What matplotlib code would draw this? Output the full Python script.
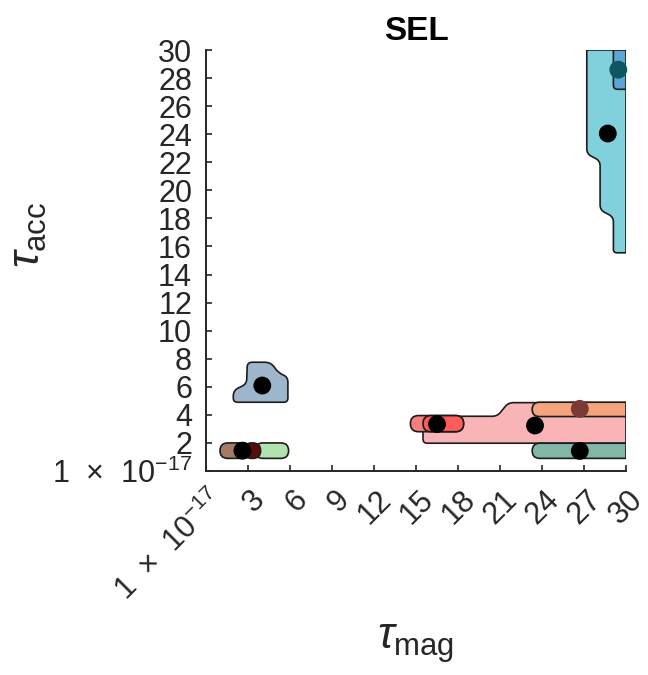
import numpy as np
import matplotlib
matplotlib.use("Agg")
import matplotlib.pyplot as plt
import matplotlib.transforms as mtransforms
from matplotlib.path import Path
from matplotlib.patches import PathPatch

plt.rcParams["font.family"] = ["Liberation Sans", "DejaVu Sans"]
plt.rcParams["mathtext.fontset"] = "custom"
plt.rcParams["mathtext.rm"] = "Liberation Sans"
plt.rcParams["mathtext.it"] = "Liberation Sans:italic"
plt.rcParams["mathtext.bf"] = "Liberation Sans:bold"

# ---- region outlines (corner points, data units) ----
blob_x = [2.95, 4.65, 5.15, 5.85, 5.85, 1.95, 1.95, 2.9]
blob_y = [7.75, 7.75, 7.0, 6.7, 4.9, 4.9, 5.75, 6.2]
blob_r = [0.35, 0.5, 0.4, 0.35, 0.3, 0.3, 0.4, 0.35]

pink_x = [15.5, 20.8, 21.6, 30.0, 30.0, 15.5]
pink_y = [3.9, 3.9, 4.87, 4.87, 1.98, 1.98]
pink_r = [0.3, 0.35, 0.35, 0.0, 0.0, 0.3]

cyan_x = [27.2, 30.0, 30.0, 29.1, 29.1, 28.15, 28.15, 27.2]
cyan_y = [30.0, 30.0, 15.55, 15.55, 18.1, 18.6, 22.1, 22.6]
cyan_r = [0.0, 0.0, 0.0, 0.25, 0.35, 0.35, 0.35, 0.35]

steel_x = [29.1, 30.0, 30.0, 29.1]
steel_y = [30.0, 30.0, 27.2, 27.2]
steel_r = [0.0, 0.0, 0.0, 0.3]

# capsules: x start, x end, y low, y high, rounded right end
cap_x0 = [3.5, 1.0, 2.7, 14.6, 15.5, 23.3, 23.3]
cap_x1 = [5.9, 3.2, 3.9, 18.4, 18.4, 30.0, 30.0]
cap_y0 = [0.9, 0.9, 0.9, 2.8, 2.8, 3.88, 0.9]
cap_y1 = [2.0, 2.0, 2.0, 3.95, 3.95, 4.9, 1.98]
cap_round_right = [True, True, True, True, True, False, False]
cap_colors = ["#B2E2AD", "#A67B65", "#5A0B0C", "#F77E7E", "#FF5B5B", "#F6A47E", "#80B7A7"]

# centroids
dot_x = [2.6, 4.02, 16.5, 23.5, 26.7, 26.7, 28.7, 29.45]
dot_y = [1.45, 6.09, 3.34, 3.24, 4.43, 1.43, 24.05, 28.6]
dot_c = ["black", "black", "black", "black", "#7B3A35", "black", "black", "#0E5661"]

x_ticks = list(range(0, 31, 3))
y_ticks = list(range(0, 31, 2))
zero_label = "1  ×  10$^{-17}$"


def rounded_path(xs, ys, radii):
    pts = np.column_stack([xs, ys]).astype(float)
    n = len(pts)
    verts, codes = [], []
    for i in range(n):
        p0, p1, p2 = pts[i - 1], pts[i], pts[(i + 1) % n]
        d1, d2 = p0 - p1, p2 - p1
        l1, l2 = np.hypot(*d1), np.hypot(*d2)
        r = min(radii[i], l1 / 2, l2 / 2)
        a = p1 + d1 / l1 * r
        b = p1 + d2 / l2 * r
        verts.append(a)
        codes.append(Path.MOVETO if i == 0 else Path.LINETO)
        if r > 0:
            verts += [p1, b]
            codes += [Path.CURVE3, Path.CURVE3]
    verts.append(verts[0])
    codes.append(Path.CLOSEPOLY)
    return Path(verts, codes)


def add_region(ax, xs, ys, radii, color, z):
    ax.add_patch(PathPatch(rounded_path(xs, ys, radii), facecolor=color,
                           edgecolor="#1c1c1c", linewidth=1.2, zorder=z))


fig = plt.figure(figsize=(6.48, 6.75), dpi=100)
ax = fig.add_axes([206 / 648, 1 - 471 / 675, 420 / 648, 421 / 675])

add_region(ax, blob_x, blob_y, blob_r, "#9EB6CC", 2)
add_region(ax, pink_x, pink_y, pink_r, "#F9B4B7", 2)
add_region(ax, cyan_x, cyan_y, cyan_r, "#80D1DC", 2)
add_region(ax, steel_x, steel_y, steel_r, "#5AA7D6", 3)

for x0, x1, y0, y1, rr, c in zip(cap_x0, cap_x1, cap_y0, cap_y1, cap_round_right, cap_colors):
    h = (y1 - y0) / 2
    rright = h if rr else 0.0
    add_region(ax, [x0, x1, x1, x0], [y1, y1, y0, y0], [h, rright, rright, h], c, 3)

ax.scatter(dot_x, dot_y, s=165, c=dot_c, edgecolors="none", zorder=5, clip_on=False)

ax.set_xlim(0, 30)
ax.set_ylim(0, 30)
ax.set_xticks(x_ticks)
ax.set_yticks(y_ticks)
ax.set_xticklabels([zero_label] + [str(t) for t in x_ticks[1:]])
ax.set_yticklabels([zero_label] + [str(t) for t in y_ticks[1:]])

for s in ["top", "right"]:
    ax.spines[s].set_visible(False)
for s in ["left", "bottom"]:
    ax.spines[s].set_linewidth(1.4)
    ax.spines[s].set_color("#262626")

ax.tick_params(direction="in", length=4.5, width=1.2, colors="#262626",
               labelsize=22, labelcolor="#262626")
ax.tick_params(axis="x", pad=10)
ax.tick_params(axis="y", pad=10)

shift = mtransforms.ScaledTranslation(2 / 100, 0, fig.dpi_scale_trans)
for lbl in ax.get_xticklabels():
    lbl.set_rotation(45)
    lbl.set_rotation_mode("anchor")
    lbl.set_ha("right")
    lbl.set_va("top")
    lbl.set_transform(lbl.get_transform() + shift)

ax.set_title("SEL", fontsize=24, fontweight="bold", pad=7)
ax.set_xlabel(r"$\tau_{\mathrm{mag}}$", fontsize=32, color="#262626")
ax.set_ylabel(r"$\tau_{\mathrm{acc}}$", fontsize=32, color="#262626")
ax.xaxis.set_label_coords(0.5, -0.36)
ax.yaxis.set_label_coords(-0.375, 0.56)

fig.savefig("out.png", dpi=100)
